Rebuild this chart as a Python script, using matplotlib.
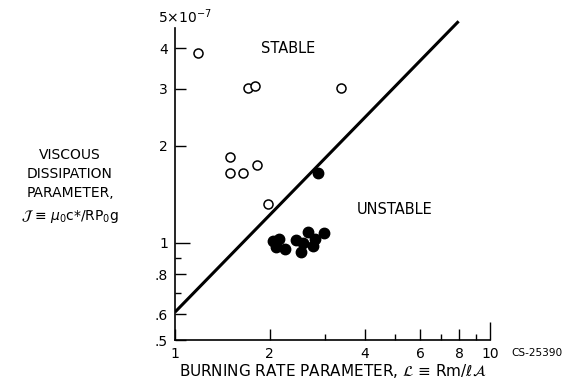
import matplotlib
matplotlib.use("Agg")
import matplotlib.pyplot as plt
from matplotlib.ticker import FixedLocator, NullFormatter

# stable points (open circles)
stable_x = [1.18, 1.71, 1.80, 3.36, 1.49, 1.50, 1.64, 1.82, 1.98]
stable_y = [3.88, 3.02, 3.06, 3.02, 1.84, 1.64, 1.64, 1.74, 1.32]

# unstable points (filled circles)
unstable_x = [2.85, 2.04, 2.14, 2.10, 2.23, 2.43, 2.65, 2.55, 2.52, 2.75, 2.78, 2.97]
unstable_y = [1.65, 1.014, 1.027, 0.967, 0.956, 1.02, 1.076, 1.00, 0.933, 0.979, 1.027, 1.069]

# stability boundary
line_x = [1.0, 7.95]
line_y = [0.61, 4.85]

xticks = [1, 2, 4, 6, 8, 10]
xticklabels = ["1", "2", "4", "6", "8", "10"]
xminor = [3, 5, 7, 9]
yticks = [0.5, 0.6, 0.8, 1, 2, 3, 4]
yticklabels = [".5", ".6", ".8", "1", "2", "3", "4"]
yminor = [0.7, 0.9]

fig = plt.figure(figsize=(5.68, 3.83), dpi=100)
ax = fig.add_axes([175 / 568, 1 - 340 / 383, 315 / 568, 323 / 383])

ax.plot(line_x, line_y, color="black", lw=2.2, solid_capstyle="butt")
ax.plot(stable_x, stable_y, "o", ms=6.5, mfc="white", mec="black", mew=1.1)
ax.plot(unstable_x, unstable_y, "o", ms=7.5, mfc="black", mec="black")

ax.set_xscale("log")
ax.set_yscale("log")
ax.set_xlim(1, 10)
ax.set_ylim(0.5, 5)

ax.xaxis.set_major_locator(FixedLocator(xticks))
ax.set_xticklabels(xticklabels)
ax.xaxis.set_minor_locator(FixedLocator(xminor))
ax.xaxis.set_minor_formatter(NullFormatter())
ax.yaxis.set_major_locator(FixedLocator(yticks))
ax.set_yticklabels(yticklabels)
ax.yaxis.set_minor_locator(FixedLocator(yminor))
ax.yaxis.set_minor_formatter(NullFormatter())

ax.tick_params(which="major", direction="in", length=8, width=1, labelsize=10, pad=5)
ax.tick_params(which="minor", direction="in", length=4, width=1)
ax.xaxis.get_major_ticks()[-1].tick1line.set_markersize(13)
ax.yaxis.get_major_ticks()[3].tick1line.set_markersize(11)

for s in ["top", "right"]:
    ax.spines[s].set_visible(False)
ax.spines["left"].set_bounds(0.5, 4.62)
ax.spines["left"].set_linewidth(1.2)
ax.spines["bottom"].set_linewidth(1.2)

ax.text(-0.054, 5, r"5$\times$10$^{-7}$", transform=ax.get_yaxis_transform(),
        ha="left", va="center", fontsize=10, clip_on=False)

ax.text(2.28, 4.0, "STABLE", ha="center", va="center", fontsize=10.5)
ax.text(4.98, 1.27, "UNSTABLE", ha="center", va="center", fontsize=10.5)

ax.set_xlabel(r"BURNING RATE PARAMETER, $\mathcal{L}$ ≡ Rm/$\ell\mathcal{A}$",
              fontsize=11, labelpad=1)

fig.text(70 / 568, 1 - 174 / 383, "VISCOUS\nDISSIPATION\nPARAMETER,",
         ha="center", va="center", fontsize=10, linespacing=1.45)
fig.text(70 / 568, 1 - 216 / 383, r"$\mathcal{J}$ ≡ $\mu_0$c*/RP$_0$g",
         ha="center", va="center", fontsize=10)
fig.text(511 / 568, 1 - 353 / 383, "CS-25390", ha="left", va="center", fontsize=7.6)

fig.savefig("out.png", dpi=100)
